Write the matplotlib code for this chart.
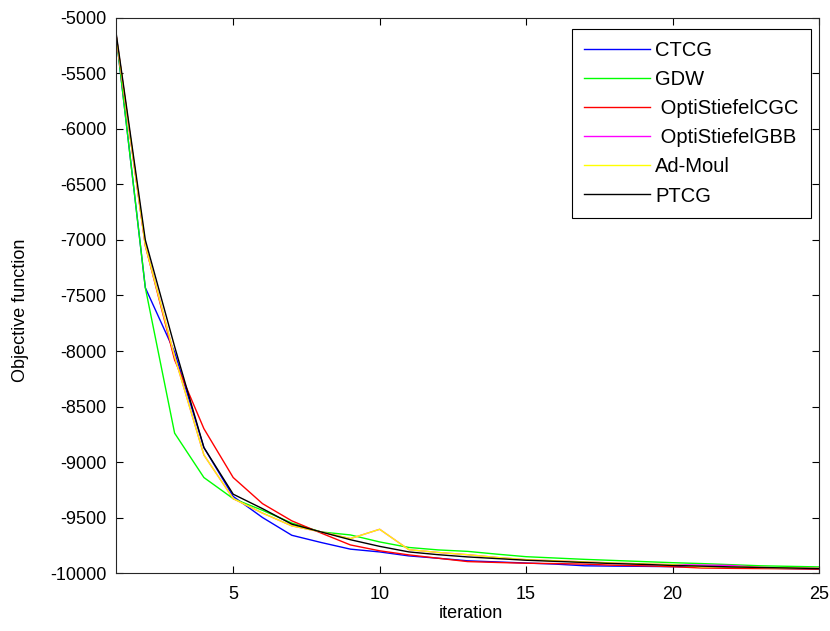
import matplotlib
matplotlib.use('Agg')
import matplotlib.pyplot as plt

plt.rcParams['font.family'] = ['Liberation Sans', 'DejaVu Sans']
plt.rcParams['axes.unicode_minus'] = False

iterations = list(range(1, 26))

ctcg = [-5150, -7430, -8010, -8870, -9310, -9500, -9660, -9725, -9785, -9810,
        -9846, -9867, -9890, -9900, -9910, -9920, -9935, -9938, -9940, -9943,
        -9946, -9950, -9955, -9960, -9965]
gdw = [-5150, -7430, -8740, -9140, -9330, -9435, -9550, -9630, -9657, -9720,
       -9770, -9792, -9805, -9830, -9853, -9865, -9877, -9887, -9897, -9907,
       -9915, -9925, -9935, -9940, -9945]
opti_cgc = [-5150, -7050, -8080, -8700, -9140, -9375, -9530, -9640, -9747, -9800,
            -9837, -9867, -9897, -9905, -9912, -9915, -9920, -9930, -9935, -9943,
            -9955, -9958, -9960, -9962, -9965]
opti_gbb = [-5150, -7050, -8050, -8937, -9330, -9460, -9575, -9630, -9690, -9606,
            -9790, -9815, -9835, -9860, -9880, -9890, -9900, -9910, -9918, -9925,
            -9928, -9932, -9950, -9955, -9958]
ad_moul = [-5150, -7050, -8050, -8937, -9330, -9460, -9575, -9630, -9690, -9606,
           -9790, -9815, -9835, -9860, -9880, -9890, -9900, -9910, -9918, -9925,
           -9945, -9945, -9950, -9955, -9958]
ptcg = [-5130, -7000, -7960, -8870, -9290, -9420, -9560, -9630, -9700, -9760,
        -9810, -9835, -9855, -9870, -9885, -9895, -9905, -9915, -9922, -9932,
        -9938, -9945, -9950, -9955, -9960]

series = [
    ('CTCG', ctcg, '#0000ff'),
    ('GDW', gdw, '#00ff00'),
    (' OptiStiefelCGC', opti_cgc, '#ff0000'),
    (' OptiStiefelGBB', opti_gbb, '#ff00ff'),
    ('Ad-Moul', ad_moul, '#ffff00'),
    ('PTCG', ptcg, '#000000'),
]

fig = plt.figure(figsize=(8.3, 6.31), dpi=100)
ax = fig.add_axes([0.1398, 0.0919, 0.847, 0.8796])

for label, values, color in series:
    ax.plot(iterations, values, color=color, linewidth=1.0, label=label)

ax.set_xlim(1, 25)
ax.set_ylim(-10000, -5000)
ax.set_xticks([5, 10, 15, 20, 25])
ax.set_yticks(range(-10000, -4999, 500))
ax.tick_params(direction='in', top=True, right=True, labelsize=13, length=5,
               width=0.8)
ax.tick_params(axis='x', pad=9)
ax.tick_params(axis='y', pad=7)
for s in ax.spines.values():
    s.set_linewidth(0.8)
    s.set_color('#262626')

ax.set_xlabel('iteration', fontsize=13)
ax.set_ylabel('Objective function', fontsize=13)
ax.xaxis.set_label_coords(0.505, -0.057)
ax.yaxis.set_label_coords(-0.124, 0.474)

leg = ax.legend(loc='upper right', bbox_to_anchor=(0.9886, 0.980), borderaxespad=0,
                fontsize=14.5, fancybox=False, framealpha=1, edgecolor='black',
                handlelength=3.3, handletextpad=0.25, labelspacing=0.5,
                borderpad=0.6)
leg.get_frame().set_linewidth(0.8)

fig.savefig('out.png', dpi=100)
